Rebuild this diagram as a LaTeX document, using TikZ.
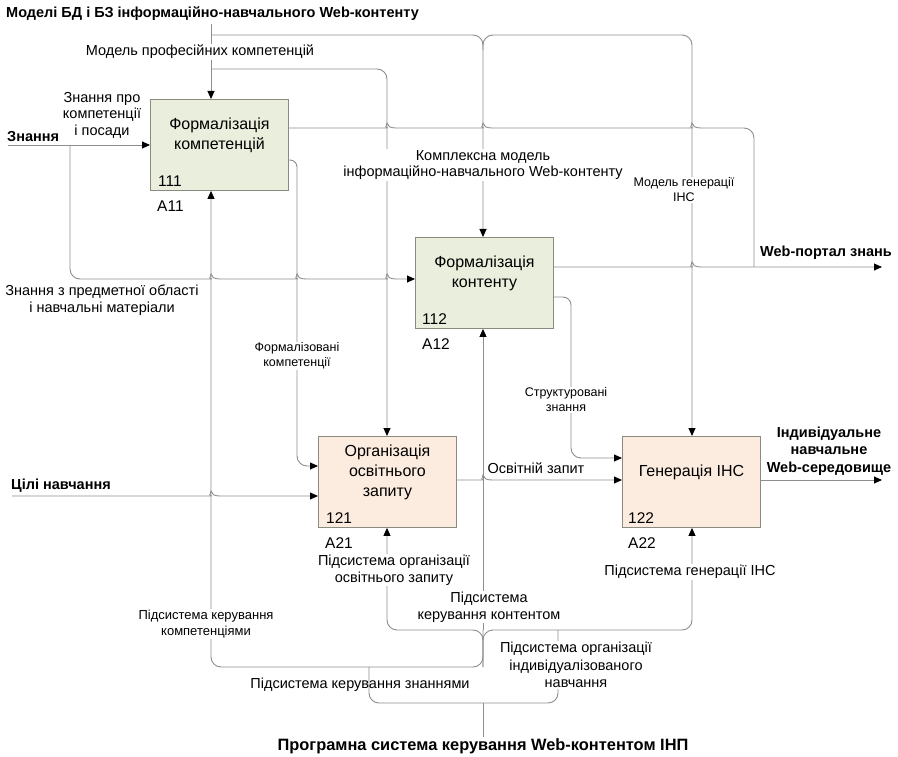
\documentclass[tikz,border=0pt]{standalone}
\usepackage{fontspec}
\setmainfont{Liberation Sans}
\usetikzlibrary{arrows.meta,calc}

\definecolor{linegray}{HTML}{8E8E8E}
\definecolor{boxgray}{HTML}{8A8A80}
\definecolor{greenfill}{HTML}{EAEEDC}
\definecolor{peachfill}{HTML}{FCEBDF}

\newcommand\fnorm{\fontsize{14.5}{16.5}\selectfont}
\newcommand\fsmall{\fontsize{12.5}{15}\selectfont}
\newcommand\fmid{\fontsize{13}{16}\selectfont}
\newcommand\fboxtitle{\fontsize{16}{20}\selectfont}
\newcommand\fnum{\fontsize{15.5}{18}\selectfont}
\newcommand\fbold{\fontsize{14.5}{17.5}\selectfont\bfseries}

\begin{document}
\begin{tikzpicture}[x=1pt,y=-1pt,
  wire/.style={draw=linegray,line width=0.9pt,rounded corners=10pt},
  arr/.style={-{Triangle[length=8pt,width=7pt,color=black]}},
  rarr/.style={{Triangle[length=8pt,width=7pt,color=black]}-},
  hop/.style={to path={[sharp corners]
    .. controls ($(\tikztostart)!0.35!(\tikztotarget)$)
           and ($(\tikztostart)!0.47!(\tikztotarget)+(0,-2)$)
    .. ($(\tikztostart)!0.5!(\tikztotarget)+(0,-5)$)
    .. controls ($(\tikztostart)!0.53!(\tikztotarget)+(0,-2)$)
           and ($(\tikztostart)!0.65!(\tikztotarget)$)
    .. (\tikztotarget) [rounded corners=10pt]}},
  box/.style={draw=boxgray,line width=0.9pt,minimum width=138pt,
    minimum height=91pt,inner sep=0pt,anchor=north west},
  title/.style={align=center,font=\fboxtitle,inner sep=0pt},
  num/.style={font=\fnum,anchor=base west,inner sep=0pt},
  lbl/.style={align=center,font=\fnorm,fill=white,inner sep=1pt},
  plain/.style={align=center,font=\fnorm,inner sep=1pt},
  slbl/.style={align=center,font=\fsmall,fill=white,inner sep=1pt},
  blbl/.style={align=center,font=\fbold,inner sep=1pt},
]
\fill[white] (0,0) rectangle (898,757);
\useasboundingbox (0,0) rectangle (898,757);

% activity boxes
\node[box,fill=greenfill] (b111) at (150,99) {};
\node[box,fill=greenfill] (b112) at (415,237) {};
\node[box,fill=peachfill] (b121) at (318,436) {};
\node[box,fill=peachfill] (b122) at (622,436) {};

% free ends of the boundary arrows
\coordinate (ctrlIn) at (211,24);
\coordinate (knowIn) at (8,145);
\coordinate (goalIn) at (12,496);
\coordinate (portalOut) at (882,267);
\coordinate (envOut) at (882,480);
\coordinate (mechIn) at (483,737);

% controls from the top
\draw[wire,arr] (ctrlIn) -- (ctrlIn |- b111.north);
\draw[wire,arr] (211,35) -- (483,35) -- (b112.north -| 483,0);
\draw[wire,arr] (483,50) -- (483,35) -- (692,35) -- (b122.north -| 692,0);
\draw[wire,arr] (211,69) -- (387,69) -- (b121.north -| 387,0);

% outputs of 111
\draw[wire] (b111.east |- 0,128) -- (378,128) to[hop] (396,128)
  -- (474,128) to[hop] (492,128) -- (683,128) to[hop] (701,128)
  -- (754,128) -- (754,267);
\draw[wire,arr,rounded corners=7pt] (b111.east |- 0,160) -- (297,160)
  [rounded corners=10pt] -- (297,466) -- (b121.west |- 0,466);

% knowledge inputs
\draw[wire,arr] (knowIn) -- (b111.west |- knowIn);
\draw[wire,arr] (70,145) -- (70,279) -- (202,279) to[hop] (220,279)
  -- (288,279) to[hop] (306,279) -- (378,279) to[hop] (396,279)
  -- (b112.west |- 0,279);

% outputs of 112
\draw[wire,arr] (b112.east |- portalOut) -- (683,267) to[hop] (701,267)
  -- (portalOut);
\draw[wire,arr,rounded corners=8pt] (b112.east |- 0,297) -- (571,297)
  [rounded corners=10pt] -- (571,458) -- (b122.west |- 0,458);

% request and environment
\draw[wire,arr] (b121.east |- 0,480) -- (474,480) to[hop] (492,480)
  -- (b122.west |- 0,480);
\draw[wire,arr] (b122.east |- envOut) -- (envOut);
\draw[wire,arr] (goalIn) -- (202,496) to[hop] (220,496) -- (b121.west |- goalIn);

% mechanisms from the bottom
\draw[wire] (mechIn) -- (483,703);
\draw[wire] (369,667) -- (369,703) -- (558,703) -- (558,630);
\draw[wire,arr] (369,667) -- (211,667) -- (b111.south -| 211,0);
\draw[wire] (369,667) -- (483,667) -- (483,630);
\draw[wire,rarr] (b121.south -| 387,0) -- (387,630) -- (483,630) -- (483,667);
\draw[wire] (558,630) -- (483,630) -- (483,667);
\draw[wire,arr] (558,630) -- (692,630) -- (b122.south -| 692,0);
\draw[wire,arr] (483,630) -- (b112.south -| 483,0);

% box texts
\node[title] (t111) at ($(b111.center)+(0,-9.5)$) {Формалізація\\компетенцій};
\node[title] (t112) at ($(b112.center)+(0,-9.5)$) {Формалізація\\контенту};
\node[title] (t121) at ($(b121.center)+(0,-9.5)$) {Організація\\освітнього\\запиту};
\node[title] (t122) at ($(b122.center)+(0,-9.5)$) {Генерація ІНС};
\node[num] (n111) at ($(b111.south west)+(8,-4)$) {111};
\node[num] (n112) at ($(b112.south west)+(7,-4)$) {112};
\node[num] (n121) at ($(b121.south west)+(8,-4)$) {121};
\node[num] (n122) at ($(b122.south west)+(6,-4)$) {122};
\node[num] (a11) at ($(b111.south west)+(7,21)$) {A11};
\node[num] (a12) at ($(b112.south west)+(7,21)$) {A12};
\node[num] (a21) at ($(b121.south west)+(7,21)$) {A21};
\node[num] (a22) at ($(b122.south west)+(6,21)$) {A22};

% arrow labels
\node[blbl,anchor=west] (topTitle) at (5,14) {Моделі БД і БЗ інформаційно-навчального Web-контенту};
\node[lbl] (lModProf) at (200,52) {Модель професійних компетенцій};
\node[lbl] (lKompl) at (483,165) {Комплексна модель\\інформаційно-навчального Web-контенту};
\node[slbl] (lModGen) at (684,190) {Модель генерації\\ІНС};
\node[plain] (lZnPro) at (102,115) {Знання про\\компетенції\\і посади};
\node[blbl,anchor=west] (lZnannya) at (6,137) {Знання};
\node[plain] (lZnPred) at (102,300) {Знання з предметної області\\і навчальні матеріали};
\node[slbl] (lFormK) at (297,356) {Формалізовані\\компетенції};
\node[blbl] (lPortal) at (826,253) {Web-портал знань};
\node[slbl] (lStruct) at (566,400) {Структуровані\\знання};
\node[plain] (lZapyt) at (536,468) {Освітній запит};
\node[blbl] (lEnv) at (829,451) {Індивідуальне\\навчальне\\Web-середовище};
\node[blbl,anchor=west] (lGoals) at (10,486) {Цілі навчання};
\node[lbl] (lSubReq) at (394,570) {Підсистема організації\\освітнього запиту};
\node[lbl] (lSubGen) at (690,572) {Підсистема генерації ІНС};
\node[lbl] (lSubCont) at (489,607) {Підсистема\\керування контентом};
\node[lbl,font=\fmid] (lSubComp) at (206,624) {Підсистема керування\\компетенціями};
\node[plain] (lSubKnow) at (360,685) {Підсистема керування знаннями};
\node[lbl,font=\fontsize{14.5}{17.5}\selectfont] (lSubInd) at (576,665) {Підсистема організації\\індивідуалізованого\\навчання};
\node[blbl,font=\fontsize{16.4}{19}\selectfont\bfseries] (botTitle) at (483,746) {Програмна система керування Web-контентом ІНП};
\end{tikzpicture}
\end{document}
